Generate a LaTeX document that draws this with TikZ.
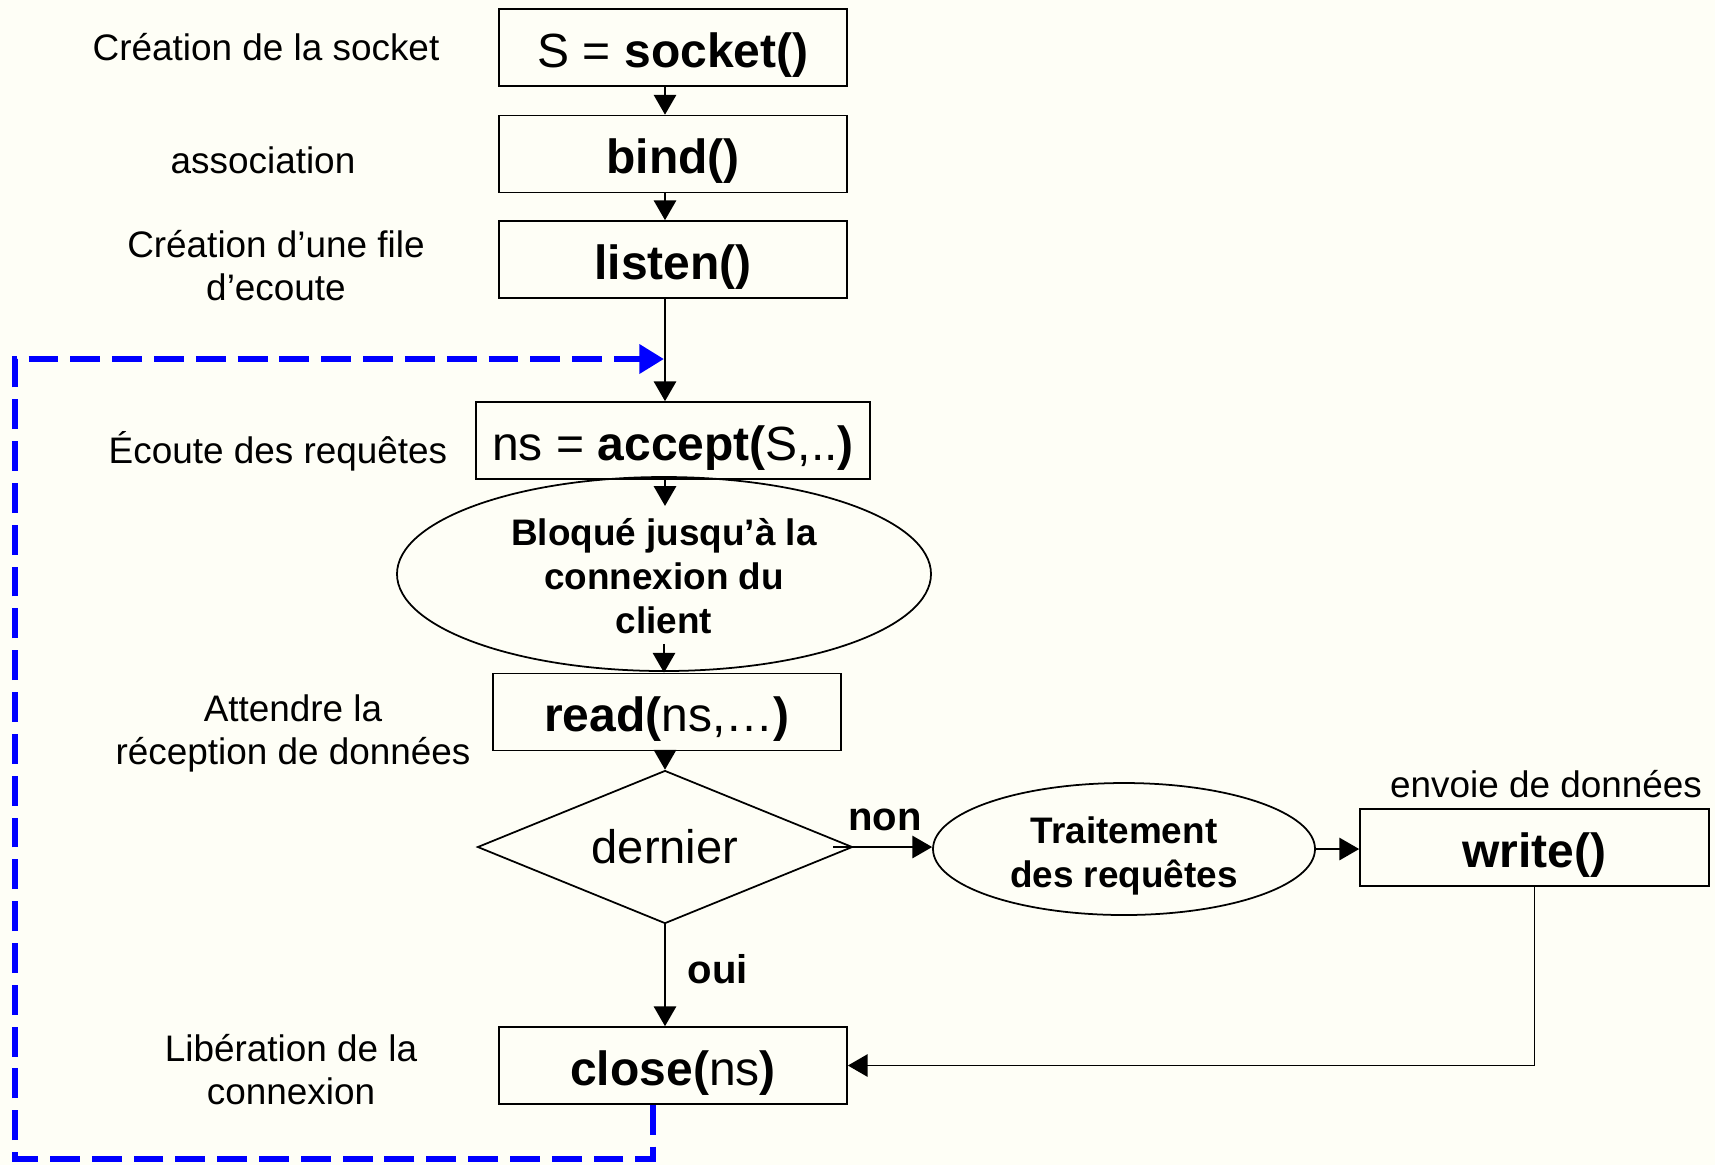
\documentclass[tikz,border=0pt]{standalone}
\usepackage{fontspec}
\setmainfont{Liberation Sans}
\usepackage{tikz}
\usetikzlibrary{arrows,arrows.meta,shapes}
\definecolor{paper}{RGB}{254,254,246}

\begin{document}
\begin{tikzpicture}[line width=.5pt,
    box/.style={draw,rectangle,minimum width=3.48cm,minimum height=.77cm,inner sep=0pt,text height=11.7pt,text depth=.5pt,font=\fontsize{13.66pt}{16pt}\selectfont},
    bubble/.style={draw,ellipse,inner sep=0pt,align=center,font=\fontsize{10.5pt}{12.5pt}\selectfont\bfseries},
    test/.style={draw,diamond,aspect=2.45,inner sep=0pt,minimum width=3.75cm,minimum height=1.53cm,font=\fontsize{13.4pt}{16pt}\selectfont},
    lbl/.style={align=center,font=\fontsize{10.5pt}{12.2pt}\selectfont},
    yesno/.style={font=\fontsize{11.4pt}{13pt}\selectfont\bfseries}]
%background
    \fill[paper] (0,0) rectangle (17.15,-11.65);
    \useasboundingbox (0,0) rectangle (17.15,-11.65);
%draw boxes
    \node[box] (socket) at (6.73,-.475) {S = \textbf{socket()}};
    \node[box] (bind) at (6.73,-1.54) {\textbf{bind()}};
    \node[box] (listen) at (6.73,-2.595) {\textbf{listen()}};
    \node[box,minimum width=3.94cm] (accept) at (6.73,-4.405) {ns = \textbf{accept(}S,..\textbf{)}};
    \node[bubble,minimum width=5.34cm,minimum height=1.94cm] (wait) at (6.64,-5.74) {\rule{0pt}{9pt}Bloqué jusqu’à la\\connexion du\\client};
    \node[box] (read) at (6.67,-7.12) {\textbf{read(}ns,…\textbf{)}};
    \node[test] (last) at (6.65,-8.47) {dernier};
    \node[bubble,minimum width=3.82cm,minimum height=1.32cm] (treat) at (11.24,-8.49) {\rule{0pt}{11.4pt}Traitement\\des requêtes};
    \node[box,minimum width=3.49cm] (write) at (15.345,-8.475) {\textbf{write()}};
    \node[box] (close) at (6.73,-10.655) {\textbf{close(}ns\textbf{)}};
%helper points
    \coordinate (spine) at (6.65,0);
    \coordinate (join) at (6.64,-3.59);
    \coordinate (corner) at (.15,-11.59);
%draw directed edges
    \begin{scope}[every path/.style={-triangle 60}]
       \draw (socket.south -| spine) -- (bind.north -| spine);
       \draw (bind.south -| spine) -- (listen.north -| spine);
       \draw (listen.south -| spine) -- (accept.north -| spine);
       \draw (accept.south -| spine) -- ++(0,-.26);
       \draw ([yshift=.28cm]wait.south) -- (wait.south |- read.north);
       \draw (read.south -| spine) -- (last.north);
       \draw ([xshift=-.2cm]last.east) -- (treat.west |- last.east);
       \draw (treat.east) -- (write.west |- treat.east);
       \draw (last.south) -- (close.north -| spine);
       \draw (write.south) |- (close.east);
    \end{scope}
%loop back
    \draw[blue,line width=1.9pt,dash pattern=on 8.5pt off 3.4pt,-{Triangle[length=7pt,width=8pt]}] ([xshift=-.2cm]close.south) |- (corner) |- (join);
%insert edge labels
    \node[yesno] (non) at (8.85,-8.2) {non};
    \node[yesno] (oui) at (7.18,-9.69) {oui};
%insert step labels
    \node[lbl] (l1) at (2.66,-.47) {Création de la socket};
    \node[lbl] (l2) at (2.63,-1.60) {association};
    \node[lbl] (l3) at (2.76,-2.66) {Création d’une file\\d’ecoute};
    \node[lbl] (l4) at (2.78,-4.51) {Écoute des requêtes};
    \node[lbl] (l5) at (2.93,-7.33) {Attendre la\\réception de données};
    \node[lbl] (l6) at (2.91,-10.70) {Libération de la\\connexion};
    \node[lbl] (l7) at (15.46,-7.84) {envoie de données};
\end{tikzpicture}
\end{document}
